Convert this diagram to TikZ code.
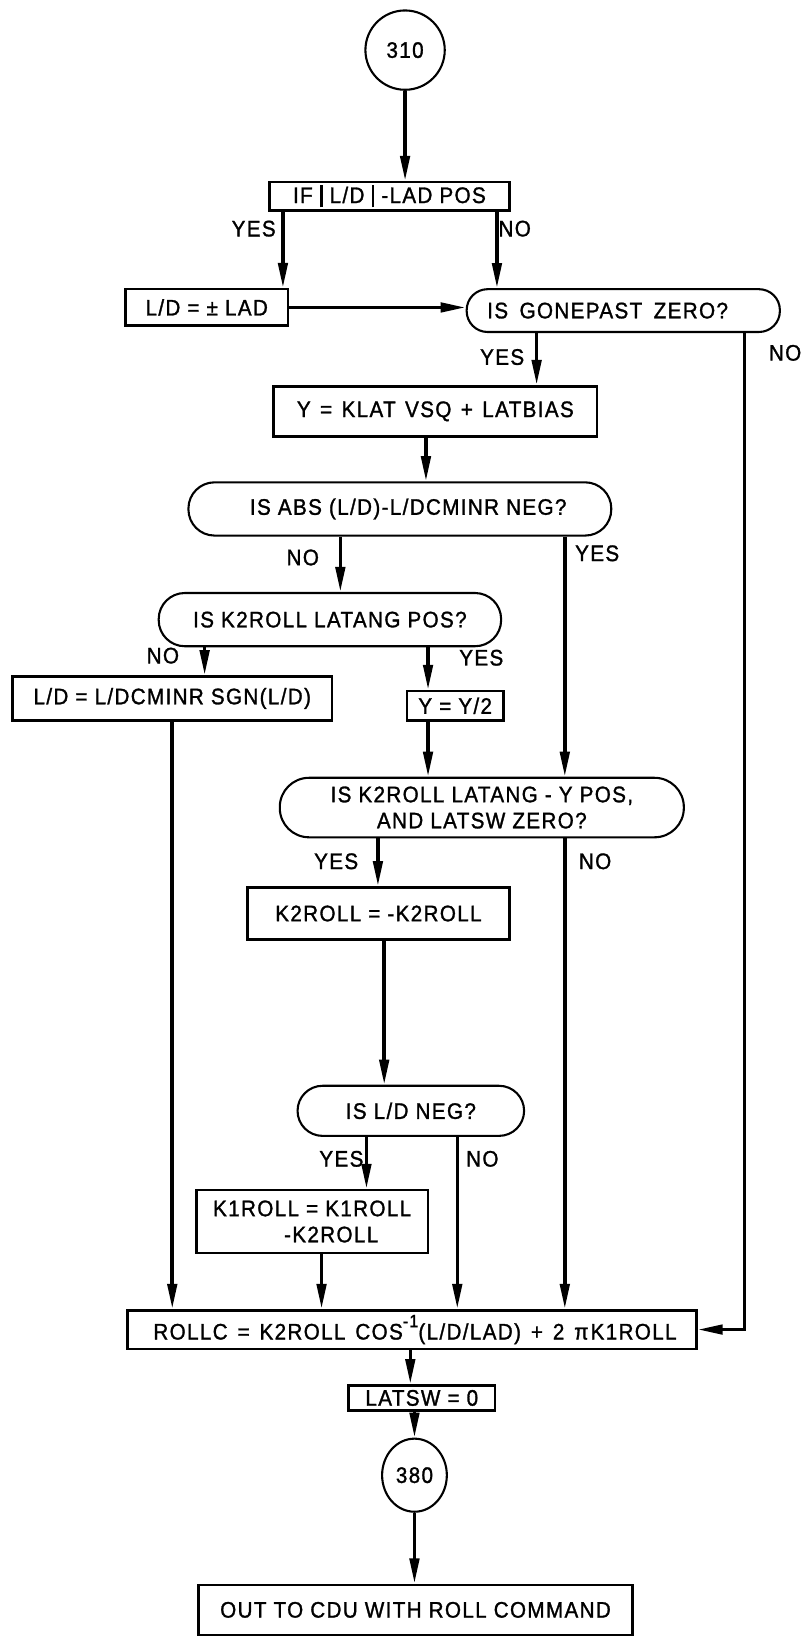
\documentclass[tikz,border=0pt]{standalone}
\usepackage{fontspec}
\setmainfont[FakeStretch=0.92,LetterSpace=6,FakeBold=1.3]{Liberation Sans}
\usetikzlibrary{arrows.meta,shapes.geometric}
\newcommand{\vbarx}{\rule[-0.2em]{2.6pt}{1.0em}}
\begin{document}
\begin{tikzpicture}[x=1pt,y=-1pt,
  txt/.style={font=\fontsize{21.5}{25}\selectfont},
  box/.style={txt, draw, line width=2.5pt, inner sep=0pt, align=center},
  dec/.style={txt, draw, line width=2pt, inner sep=0pt, align=center},
  flow/.style={line width=3.4pt, -{Triangle[length=24pt,width=9pt]}},
  lbl/.style={txt, inner sep=0pt}]
\path[use as bounding box] (0,0) rectangle (769,1568);

% column coordinates
\coordinate (cb) at (271,0);
\coordinate (cc) at (476,0);
\coordinate (cd) at (514,0);
\coordinate (ce) at (713,0);
\coordinate (cf) at (408,0);
\coordinate (cg) at (326,0);
\coordinate (ch) at (541,0);
\coordinate (ci) at (196,0);
\coordinate (cj) at (410,0);
\coordinate (ck) at (165,0);
\coordinate (cl) at (362,0);
\coordinate (cn) at (368,0);
\coordinate (co) at (351,0);
\coordinate (cp) at (438,0);
\coordinate (cq) at (308,0);
\coordinate (cr) at (393,0);

% nodes
\node[txt, draw, circle, line width=2pt, minimum size=76pt, inner sep=0pt] (c310) at (388,48) {310};
\node[box, minimum width=230pt, minimum height=27pt] (b1) at (373,188) {IF \vbarx\ L/D \vbarx\ -LAD POS};
\node[box, minimum width=156pt, minimum height=35pt] (b2) at (198,294.5) {L/D = ± LAD};
\node[dec, rounded corners=20pt, minimum width=300pt, minimum height=41pt] (d1) at (597,297.5) {\hspace*{-30pt}{\spaceskip=11pt IS GONEPAST ZERO?}};
\node[box, minimum width=310pt, minimum height=48pt] (b3) at (417,394) {{\spaceskip=9pt Y = KLAT VSQ + LATBIAS}};
\node[dec, rounded corners=25pt, minimum width=405pt, minimum height=51pt] (d2) at (383,487.5) {\hspace*{16pt}IS ABS (L/D)-L/DCMINR NEG?};
\node[dec, rounded corners=25pt, minimum width=328pt, minimum height=51pt] (d3) at (316,593.5) {IS K2ROLL LATANG POS?};
\node[box, minimum width=306pt, minimum height=42pt] (b4) at (165,669) {L/D = L/DCMINR SGN(L/D)};
\node[box, minimum width=92pt, minimum height=28pt] (b5) at (436,676) {Y = Y/2};
\node[dec, rounded corners=28pt, minimum width=387pt, minimum height=57pt] (d4) at (461.5,773.5) {IS K2ROLL LATANG - Y POS,\\AND LATSW ZERO?};
\node[box, minimum width=251pt, minimum height=50pt] (b6) at (362.5,875) {K2ROLL = -K2ROLL};
\node[dec, rounded corners=24pt, minimum width=217pt, minimum height=48pt] (d5) at (393.5,1064) {IS L/D NEG?};
\node[box, minimum width=222pt, minimum height=60pt, align=left] (b7) at (299,1170) {K1ROLL = K1ROLL\\\hspace*{68pt}-K2ROLL};
\node[box, minimum width=545pt, minimum height=37pt] (rollc) at (394.5,1273.5) {\hspace*{6pt}{\spaceskip=9.5pt ROLLC = K2ROLL COS\raisebox{0.55em}{\fontsize{17}{17}\selectfont -1}(L/D/LAD) + 2 π\hspace{2pt}K1ROLL}};
\node[box, minimum width=140pt, minimum height=24pt] (latsw) at (404,1339) {LATSW = 0};
\node[txt, draw, ellipse, line width=2pt, minimum width=62pt, minimum height=70pt, inner sep=0pt] (c380) at (397,1413) {380};
\node[box, minimum width=416pt, minimum height=48pt] (b9) at (398,1542) {OUT TO CDU WITH ROLL COMMAND};

% labels
\node[lbl] (l1y) at (243,219) {YES};
\node[lbl] (l1n) at (493,219) {NO};
\node[lbl] (l2y) at (481,342) {YES};
\node[lbl] (l2n) at (752,338) {NO};
\node[lbl] (l3n) at (290,534) {NO};
\node[lbl] (l3y) at (572,530) {YES};
\node[lbl] (l4n) at (156,628) {NO};
\node[lbl] (l4y) at (461,630) {YES};
\node[lbl] (l5y) at (322,825) {YES};
\node[lbl] (l5n) at (570,825) {NO};
\node[lbl] (l6y) at (327,1110) {YES};
\node[lbl] (l6n) at (462,1110) {NO};

% connectors
\draw[flow] (c310.south) -- (c310.south |- b1.north);
\draw[flow] (b1.south -| cb) -- (b2.north -| cb);
\draw[flow] (b1.south -| cc) -- (d1.north -| cc);
\draw[flow] (b2.east) -- (d1.west |- b2.east);
\draw[flow] (d1.south -| cd) -- (b3.north -| cd);
\draw[flow] (d1.south -| ce) |- (rollc.east);
\draw[flow] (b3.south -| cf) -- (d2.north -| cf);
\draw[flow] (d2.south -| cg) -- (d3.north -| cg);
\draw[flow] (d2.south -| ch) -- (d4.north -| ch);
\draw[flow] (d3.south -| ci) -- (b4.north -| ci);
\draw[flow] (d3.south -| cj) -- (b5.north -| cj);
\draw[flow] (b5.south -| cj) -- (d4.north -| cj);
\draw[flow] (b4.south -| ck) -- (rollc.north -| ck);
\draw[flow] (d4.south -| cl) -- (b6.north -| cl);
\draw[flow] (d4.south -| ch) -- (rollc.north -| ch);
\draw[flow] (b6.south -| cn) -- (d5.north -| cn);
\draw[flow] (d5.south -| co) -- (b7.north -| co);
\draw[flow] (d5.south -| cp) -- (rollc.north -| cp);
\draw[flow] (b7.south -| cq) -- (rollc.north -| cq);
\draw[flow] (rollc.south -| cr) -- (latsw.north -| cr);
\draw[flow] (latsw.south -| c380) -- (c380.north);
\draw[flow] (c380.south) -- (c380.south |- b9.north);
\end{tikzpicture}
\end{document}
